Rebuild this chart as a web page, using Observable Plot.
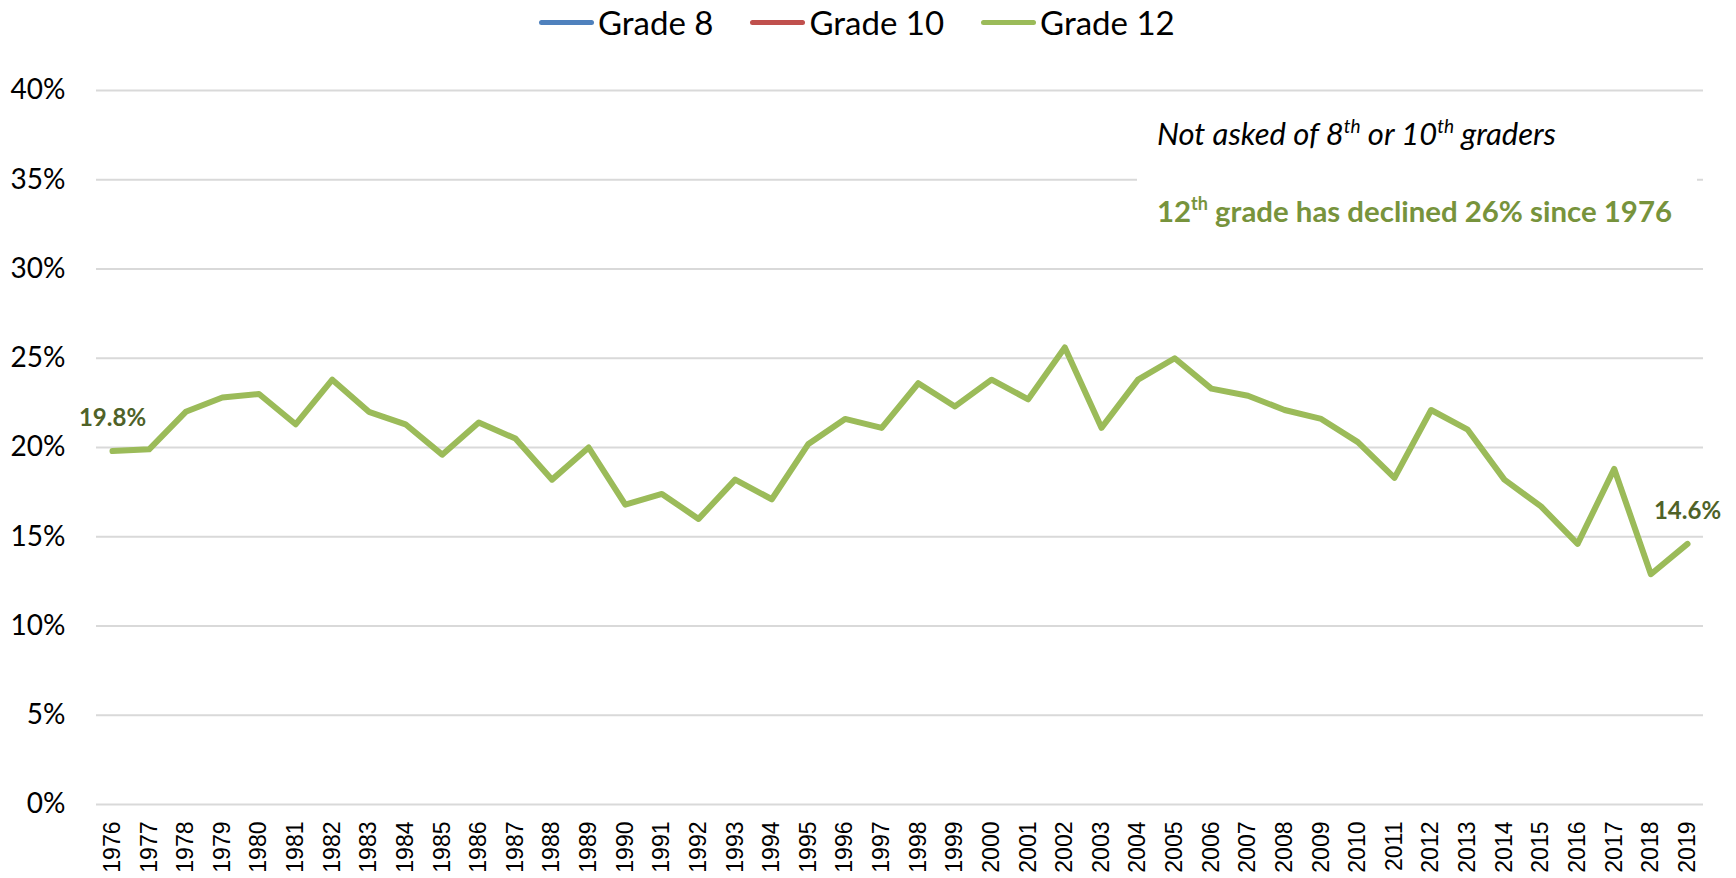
<!DOCTYPE html>
<html><head><meta charset="utf-8">
<script src="https://cdn.jsdelivr.net/npm/d3@7"></script>
<script src="https://cdn.jsdelivr.net/npm/@observablehq/plot@0.6"></script>
<style>
html,body{margin:0;background:#fff;overflow:hidden;}
#legend{position:relative;height:50px;font-family:Lato,sans-serif;font-size:33px;color:#000;}
#legend .row{position:absolute;left:539px;top:0;height:44px;display:flex;align-items:center;white-space:nowrap;}
#legend .sw{width:55px;height:5px;border-radius:3px;margin-right:4px;}
#legend .lab{margin-right:37px;}
#chart svg{display:block;}
</style></head><body>
<div id="legend"><div class="row"></div></div>
<div id="chart"></div>
<script>
const years = ["1976","1977","1978","1979","1980","1981","1982","1983","1984","1985","1986","1987","1988","1989","1990","1991","1992","1993","1994","1995","1996","1997","1998","1999","2000","2001","2002","2003","2004","2005","2006","2007","2008","2009","2010","2011","2012","2013","2014","2015","2016","2017","2018","2019"];
const grade12 = [19.8,19.9,22.0,22.8,23.0,21.3,23.8,22.0,21.3,19.6,21.4,20.5,18.2,20.0,16.8,17.4,16.0,18.2,17.1,20.2,21.6,21.1,23.6,22.3,23.8,22.7,25.6,21.1,23.8,25.0,23.3,22.9,22.1,21.6,20.3,18.3,22.1,21.0,18.2,16.7,14.6,18.8,12.9,14.6];
const seriesNames = ["Grade 8","Grade 10","Grade 12"];
const seriesColors = ["#4F81BD","#C0504D","#9BBB59"];
const yTicks = [0,0.05,0.10,0.15,0.20,0.25,0.30,0.35,0.40];

// legend
const row = d3.select("#legend .row");
seriesNames.forEach((n,i)=>{
  row.append("div").attr("class","sw").style("background",seriesColors[i]);
  row.append("div").attr("class","lab").text(n);
});

const data = years.map((y,i)=>({year:y, value:grade12[i]/100}));
const ends = [data[0], data[data.length-1]];

const plot = Plot.plot({
  width:1736, height:828,
  marginTop:40, marginBottom:74, marginLeft:96, marginRight:33,
  style:{fontFamily:"Lato, sans-serif", background:"#fff", overflow:"visible", color:"#000"},
  x:{type:"point", domain:years, range:[112,1687], padding:0, round:false, label:null},
  y:{domain:[0,0.4], label:null},
  marks:[
    Plot.gridY(yTicks, {stroke:"#D9D9D9", strokeOpacity:1, strokeWidth:2}),
    Plot.axisY(yTicks, {tickFormat:d3.format(".0%"), tickSize:0, tickPadding:31, fontSize:28, label:null}),
    Plot.axisX({tickRotate:-90, tickSize:0, tickPadding:17, fontSize:23, fontFamily:"Liberation Sans", label:null}),
    Plot.line(data, {x:"year", y:"value", stroke:seriesColors[2], strokeWidth:6, strokeLinejoin:"round", strokeLinecap:"round"}),
    Plot.text(ends, {x:"year", y:"value", text:d=>d3.format(".1%")(d.value), dy:-33, fill:"#4F6228", fontWeight:"bold", fontSize:24})
  ]
});
document.getElementById("chart").appendChild(plot);

// annotation box
const svg = d3.select(plot);
svg.append("rect").attr("x",1137).attr("y",58).attr("width",560).attr("height",120).attr("fill","#fff");
const t1 = svg.append("text").attr("x",1157).attr("y",95).attr("text-anchor","start")
  .attr("font-family","Lato, sans-serif").attr("font-size",31).attr("font-style","italic").attr("fill","#000");
t1.append("tspan").text("Not asked of 8");
t1.append("tspan").attr("dy",-12).attr("font-size",19).text("th");
t1.append("tspan").attr("dy",12).text(" or 10");
t1.append("tspan").attr("dy",-12).attr("font-size",19).text("th");
t1.append("tspan").attr("dy",12).text(" graders");
const t2 = svg.append("text").attr("x",1157).attr("y",172).attr("text-anchor","start")
  .attr("font-family","Lato, sans-serif").attr("font-size",29.4).attr("font-weight","bold").attr("fill","#77933C");
t2.append("tspan").text("12");
t2.append("tspan").attr("dy",-12).attr("font-size",18).text("th");
t2.append("tspan").attr("dy",12).text(" grade has declined 26% since 1976");
</script>
</body></html>
